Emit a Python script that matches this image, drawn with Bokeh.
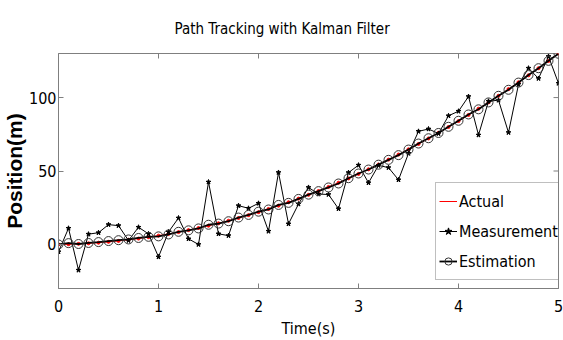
import math
from bokeh.plotting import figure
from bokeh.models import LinearAxis, Range1d, FixedTicker, Legend, LegendItem
from bokeh.embed import file_html
from bokeh.resources import INLINE

t = [0.0, 0.1, 0.2, 0.3, 0.4, 0.5, 0.6, 0.7, 0.8, 0.9,
     1.0, 1.1, 1.2, 1.3, 1.4, 1.5, 1.6, 1.7, 1.8, 1.9,
     2.0, 2.1, 2.2, 2.3, 2.4, 2.5, 2.6, 2.7, 2.8, 2.9,
     3.0, 3.1, 3.2, 3.3, 3.4, 3.5, 3.6, 3.7, 3.8, 3.9,
     4.0, 4.1, 4.2, 4.3, 4.4, 4.5, 4.6, 4.7, 4.8, 4.9, 5.0]

actual = [0.0, 0.15, 0.4, 0.75, 1.2, 1.75, 2.4, 3.15, 4.0, 4.95,
          6.0, 7.15, 8.4, 9.75, 11.2, 12.75, 14.4, 16.15, 18.0, 19.95,
          22.0, 24.15, 26.4, 28.75, 31.2, 33.75, 36.4, 39.15, 42.0, 44.95,
          48.0, 51.15, 54.4, 57.75, 61.2, 64.75, 68.4, 72.15, 76.0, 79.95,
          84.0, 88.15, 92.4, 96.75, 101.2, 105.75, 110.4, 115.15, 120.0, 124.95, 130.0]

measurement = [-5.0, 11.0, -17.5, 7.0, 8.0, 13.5, 12.8, 2.7, 11.7, 7.2,
               -8.5, 8.5, 18.0, 3.8, 0.0, 42.5, 7.2, 6.0, 26.4, 24.6,
               28.0, 9.0, 49.0, 14.0, 27.5, 38.8, 34.3, 34.0, 24.3, 48.9,
               54.0, 42.0, 53.8, 52.3, 44.0, 62.0, 77.0, 78.6, 75.5, 87.6,
               90.7, 100.7, 74.5, 97.5, 98.2, 76.2, 109.0, 120.0, 113.0, 128.0, 109.7]

estimation = [0.0, 0.9, 0.3, 1.0, 1.6, 2.3, 2.9, 3.4, 4.4, 5.2,
              5.5, 6.8, 8.6, 9.6, 10.9, 13.4, 14.2, 15.8, 18.3, 20.1,
              22.3, 23.8, 26.9, 28.3, 31.0, 33.9, 36.3, 38.8, 41.5, 45.1,
              48.3, 51.0, 54.3, 57.6, 60.8, 64.6, 68.7, 72.3, 75.9, 80.1,
              84.2, 88.5, 92.0, 96.7, 101.2, 105.3, 110.2, 115.3, 120.0, 125.0, 129.8]

x_ticks = [0, 1, 2, 3, 4, 5]
y_ticks = [0, 50, 100]
X_MIN, X_MAX = 0, 5
Y_MIN, Y_MAX = -30, 130

FONT = "DejaVu Sans Condensed"
GRAY = "#7f7f7f"

p = figure(width=563, height=340, output_backend="svg", toolbar_location=None,
           x_range=Range1d(X_MIN, X_MAX), y_range=Range1d(Y_MIN, Y_MAX),
           x_axis_location=None, y_axis_location=None,
           min_border_left=55, min_border_right=5, min_border_top=53, min_border_bottom=52)

p.title.text = "Path Tracking with Kalman Filter"
p.title.align = "left"
p.title.offset = 116
p.title.text_font = FONT
p.title.text_font_size = "15px"
p.title.text_font_style = "normal"
p.title.text_color = "black"
p.title.standoff = 31

p.xgrid.visible = False
p.ygrid.visible = False
p.outline_line_color = GRAY
p.background_fill_color = "white"
p.border_fill_color = "white"


def style_axis(ax, ticks):
    ax.ticker = FixedTicker(ticks=ticks)
    ax.axis_line_color = GRAY
    ax.major_tick_line_color = GRAY
    ax.major_tick_in = 5
    ax.major_tick_out = 0
    ax.minor_tick_line_color = None
    ax.major_label_text_font = FONT
    ax.major_label_text_color = "black"
    ax.major_label_text_font_size = "16px"
    ax.axis_label_text_color = "black"


xb = LinearAxis(axis_label="Time(s)")
style_axis(xb, x_ticks)
xb.major_label_standoff = 11
xb.axis_label_text_font = FONT
xb.axis_label_text_font_size = "16px"
xb.axis_label_text_font_style = "normal"
xb.axis_label_standoff = 4
p.add_layout(xb, "below")

yl = LinearAxis(axis_label="Position(m)")
style_axis(yl, y_ticks)
yl.major_label_standoff = 2
yl.axis_label_text_font = "Liberation Sans"
yl.axis_label_text_font_size = "21px"
yl.axis_label_text_font_style = "bold"
yl.axis_label_standoff = 0
p.add_layout(yl, "left")

# inward tick marks on the top and right edges of the box
p.scatter(x_ticks, [Y_MAX] * len(x_ticks), marker="dash", size=10, angle=math.pi / 2,
          line_color=GRAY, line_width=1)
p.scatter([X_MAX] * len(y_ticks), y_ticks, marker="dash", size=10,
          line_color=GRAY, line_width=1)

r_act_l = p.line(t, actual, line_color="red", line_width=1)
r_act_m = p.scatter(t, actual, marker="circle", size=3, fill_color="red", line_color="red")
r_mea_l = p.line(t, measurement, line_color="black", line_width=1)
r_mea_m = p.scatter(t, measurement, marker="star", size=5, fill_color="black", line_color="black")
r_est_l = p.line(t, estimation, line_color="black", line_width=1.8)
r_est_m = p.scatter(t, estimation, marker="circle", size=9, fill_color=None, line_color="#333333", line_width=1)

legend = Legend(items=[
    LegendItem(label="Actual", renderers=[r_act_l]),
    LegendItem(label="Measurement", renderers=[r_mea_l, r_mea_m]),
    LegendItem(label="Estimation", renderers=[r_est_l, r_est_m]),
], location=(377, 8))
legend.label_text_font = FONT
legend.label_text_font_size = "16px"
legend.label_text_color = "black"
legend.glyph_width = 18
legend.glyph_height = 30
legend.label_height = 30
legend.label_standoff = 2
legend.spacing = 0
legend.padding = 3
legend.margin = 0
legend.border_line_color = GRAY
legend.border_line_width = 1
legend.background_fill_color = "white"
legend.background_fill_alpha = 1
p.add_layout(legend, "center")

open("out.html", "w").write(file_html(p, INLINE))
